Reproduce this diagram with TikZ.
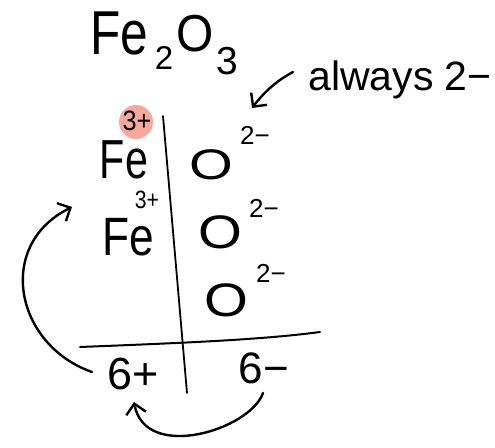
\documentclass[tikz,border=0pt]{standalone}
\usepackage{fontspec}
\setmainfont{Liberation Sans}
\usetikzlibrary{arrows.meta}
\definecolor{hl}{RGB}{245,168,158}
\newcommand{\fs}[1]{\fontsize{#1}{#1}\selectfont}
\begin{document}
\begin{tikzpicture}[x=1pt,y=-1pt,
  txt/.style={inner sep=0pt,anchor=center},
  pen/.style={line width=2.4pt,line cap=round,line join=round},
  barb/.style={-{Straight Barb[length=10pt,width=20pt,line width=2.4pt]}}]
\useasboundingbox (0,0) rectangle (495,447);
% title
\node[txt,font=\fs{62}] (fe) at (119,33) {\scalebox{0.8}[1]{Fe}};
\node[txt,font=\fs{33}] (s2) at (164,58) {2};
\node[txt,font=\fs{52}] (o) at (195,34) {\scalebox{0.92}[1]{O}};
\node[txt,font=\fs{39}] (s3) at (227,61) {3};
% always
\node[txt,font=\fs{41}] (al) at (400,80) {always 2−};
\coordinate (alstart) at (293,72);
\coordinate (alend) at (252,108);
\draw[pen,barb] (alstart) .. controls (274,82) and (262,95) .. (alend);
% highlight
\fill[hl] (136,122) circle (17);
\node[txt,font=\fs{28}] (c1) at (137,121) {\scalebox{0.9}[1]{3+}};
\node[txt,font=\fs{55}] (fe1) at (124,160) {\scalebox{0.75}[1]{Fe}};
\node[txt,font=\fs{25}] (c2) at (147,200) {\scalebox{0.85}[1]{3+}};
\node[txt,font=\fs{54}] (fe2) at (128,237) {\scalebox{0.82}[1]{Fe}};
% oxygens
\node[txt,font=\fs{45}] (o1) at (211,165) {\scalebox{1.25}[0.95]{O}};
\node[txt,font=\fs{26}] (q1) at (255,135) {2−};
\node[txt,font=\fs{47}] (o2) at (220,232) {\scalebox{1.2}[1]{O}};
\node[txt,font=\fs{26}] (q2) at (264,208) {2−};
\node[txt,font=\fs{47}] (o3) at (226,300) {\scalebox{1.2}[1]{O}};
\node[txt,font=\fs{26}] (q3) at (271,273) {2−};
% totals
\node[txt,font=\fs{45}] (pos) at (133,374) {6+};
\node[txt,font=\fs{44}] (neg) at (264,368) {6−};
% cross
\coordinate (vt) at (163,116);
\coordinate (vb) at (187,393);
\coordinate (hl1) at (80,347);
\coordinate (hr) at (320,332);
\draw[line width=1.8pt,line cap=round] (vt) -- (vb);
\draw[line width=2pt,line cap=round] (hl1) .. controls (180,343) and (260,340) .. (hr);
% curved arrows
\coordinate (la) at (92,372);
\coordinate (lb) at (72,207);
\draw[pen,barb] (la) .. controls (15,345) and (-5,245) .. (lb);
\coordinate (ba) at (263,393);
\coordinate (bb) at (134,402);
\draw[pen,barb] (ba) .. controls (250,430) and (145,462) .. (bb);
\end{tikzpicture}
\end{document}
